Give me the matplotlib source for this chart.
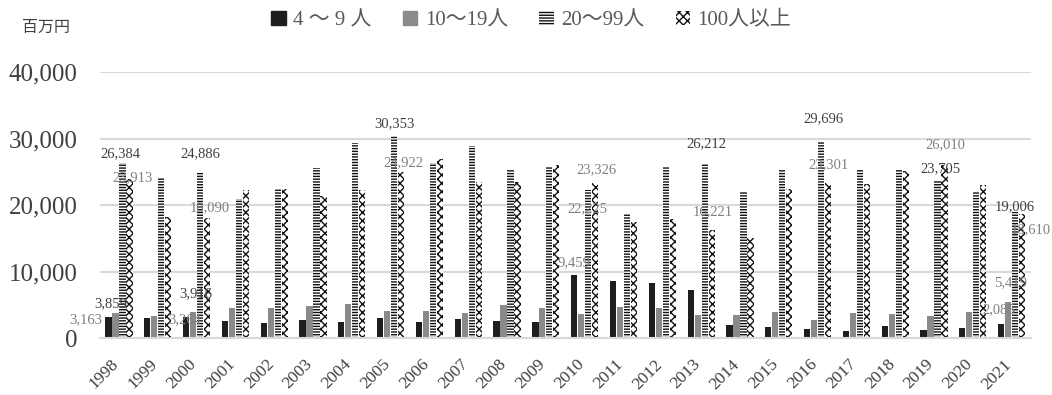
import numpy as np
import matplotlib.pyplot as plt
from matplotlib.patches import Patch
from matplotlib.transforms import ScaledTranslation

plt.rcParams['font.family'] = ['Liberation Serif', 'Noto Sans CJK JP', 'DejaVu Sans']
plt.rcParams['hatch.linewidth'] = 1.0

# 従業員規模別の金額（百万円）
years = [str(y) for y in range(1998, 2022)]
size_4_9 = [3163, 3100, 3264, 2600, 2340, 2750, 2400, 3000, 2450, 2850, 2650, 2450,
            9459, 8550, 8250, 7250, 2000, 1750, 1350, 1150, 1900, 1200, 1600, 2085]
size_10_19 = [3859, 3400, 3916, 4600, 4600, 4800, 5150, 4100, 4100, 3850, 4950, 4500,
              3650, 4650, 4500, 3500, 3500, 4000, 2750, 3850, 3600, 3350, 3900, 5419]
size_20_99 = [26384, 24150, 24886, 20900, 22400, 25600, 29350, 30353, 26400, 28850, 25250, 25850,
              22225, 18600, 25850, 26212, 22100, 25250, 29696, 25250, 25250, 23705, 22150, 19006]
size_100 = [23913, 18240, 18090, 22250, 22500, 21450, 22250, 24922, 26900, 23500, 23500, 26100,
            23326, 17400, 17900, 16221, 15000, 22500, 23301, 23150, 25100, 26010, 23000, 18610]
series_names = ['4 ～ 9 人', '10～19人', '20～99人', '100人以上']

series = [size_4_9, size_10_19, size_20_99, size_100]
styles = [
    dict(color='#1e1e1e'),
    dict(color='#8a8a8a'),
    dict(facecolor='white', edgecolor='#111111', hatch='------', linewidth=0),
    dict(facecolor='white', edgecolor='#111111', hatch='xxxx', linewidth=0),
]

DARK = '#404040'
GRAY = '#808080'
# 表示するデータラベル: (年の位置, 系列, dx, dy, 色)
labels = [
    (0, 0, -23, -2, GRAY), (0, 1, -5, 9, DARK), (0, 2, -2, 9, DARK), (0, 3, 3, 1, GRAY),
    (2, 0, -1, -3, GRAY), (2, 1, 3, 19, DARK), (2, 2, 0, 19, DARK), (2, 3, 3, 10, GRAY),
    (7, 2, 0, 13, DARK), (7, 3, 2, 10, GRAY),
    (12, 0, 0, 13, GRAY), (12, 2, -1, -18, GRAY), (12, 3, 1, 13, GRAY),
    (15, 2, 2, 20, DARK), (15, 3, 1, 19, GRAY),
    (18, 2, 2, 22, DARK), (18, 3, 0, 18, GRAY),
    (21, 2, 3, 12, DARK), (21, 3, 1, 20, GRAY),
    (23, 0, -2, 15, GRAY), (23, 1, 2, 20, GRAY), (23, 2, 0, 5, DARK), (23, 3, 9, -15, GRAY),
]

fig = plt.figure(figsize=(10.52, 3.95), dpi=100)
ax = fig.add_axes([0.0946, 0.1435, 0.8855, 0.6742])

x = np.arange(len(years))
width = 0.16
step = 0.18
for i, (vals, st) in enumerate(zip(series, styles)):
    ax.bar(x + (i - 1.5) * step, vals, width, zorder=2, **st)

for xi, si, dx, dy, c in labels:
    val = series[si][xi]
    ax.annotate(f'{val:,}', (x[xi] + (si - 1.5) * step, val),
                xytext=(dx, dy), textcoords='offset pixels',
                ha='center', va='center', fontsize=10.5, color=c, zorder=3)

ax.set_xlim(-0.5, len(years) - 0.5)
ax.set_ylim(0, 40000)
ax.set_yticks([0, 10000, 20000, 30000, 40000])
ax.set_yticklabels([f'{v:,}' for v in [0, 10000, 20000, 30000, 40000]])
ax.yaxis.grid(True, color='#d9d9d9', linewidth=1.5, zorder=0)
ax.set_axisbelow(True)
for s in ['top', 'right', 'left']:
    ax.spines[s].set_visible(False)
ax.spines['bottom'].set_color('#d9d9d9')
ax.spines['bottom'].set_linewidth(1.5)
ax.tick_params(axis='y', length=0, pad=16, labelsize=18, labelcolor='#404040')
ax.tick_params(axis='x', length=0, pad=12, labelsize=12.5, labelcolor='#404040')
ax.set_xticks(x)
ax.set_xticklabels(years, rotation=45, ha='right', rotation_mode='anchor')
shift = ScaledTranslation(-6 / 72, -1 / 72, fig.dpi_scale_trans)
for lbl in ax.get_xticklabels():
    lbl.set_transform(lbl.get_transform() + shift)

fig.text(0.021, 0.93, '百万円', fontsize=11.5, color='#404040', va='center')

handles = [Patch(**st) for st in styles]
fig.legend(handles, series_names, loc='center', bbox_to_anchor=(0.505, 0.948), ncol=4,
           frameon=False, fontsize=15, labelcolor='#595959',
           handlelength=0.7, handleheight=0.7, handletextpad=0.35, columnspacing=1.5)

fig.savefig('out.png', dpi=100)
